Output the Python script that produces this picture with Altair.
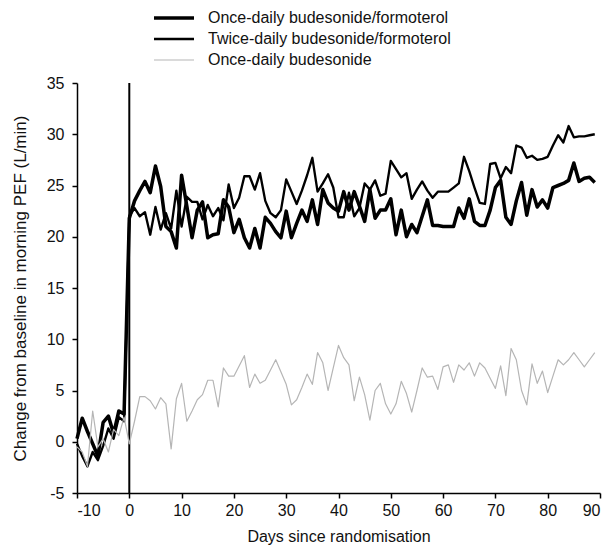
import altair as alt
import pandas as pd

series_names = ["Once-daily budesonide/formoterol",
                "Twice-daily budesonide/formoterol",
                "Once-daily budesonide"]

days = list(range(-10, 90))

od_bf = [0.3, 2.3, 1.0, -0.2, -1.4, 1.9, 2.5, 0.8, 3.0, 2.7,
         21.8, 23.5, 24.5, 25.4, 24.3, 26.9, 24.9, 21.0, 20.5, 18.9,
         26.0, 23.0, 19.9, 22.6, 23.4, 19.9, 20.2, 20.3, 23.6, 22.9,
         20.4, 21.7, 19.9, 18.9, 20.8, 18.9, 21.9, 21.3, 20.5, 19.9,
         22.5, 19.9, 21.3, 22.6, 21.5, 23.6, 21.2, 24.6, 23.3, 22.8,
         22.5, 24.4, 22.6, 24.4, 23.0, 21.5, 24.6, 21.8, 22.6, 22.6,
         23.7, 20.2, 22.6, 20.0, 21.2, 20.4, 22.0, 23.6, 21.1, 21.1,
         21.0, 21.0, 21.0, 22.8, 21.8, 23.7, 21.5, 21.1, 21.1, 22.6,
         24.8, 25.5, 21.9, 21.2, 23.5, 25.3, 22.1, 24.6, 22.9, 23.6,
         22.8, 24.8, 25.0, 25.2, 25.5, 27.2, 25.4, 25.7, 25.8, 25.3]

bd_bf = [-0.2, -1.4, -2.4, -1.0, -1.8, -0.4, 1.3, 0.3, 2.4, 2.0,
         22.0, 22.8, 22.0, 22.4, 20.2, 22.9, 20.7, 22.3, 20.8, 24.5,
         21.0, 23.9, 23.4, 23.4, 21.7, 23.1, 22.0, 22.8, 21.6, 25.1,
         22.8, 23.8, 25.9, 25.9, 24.6, 26.2, 23.5, 22.3, 21.9, 22.6,
         25.6, 24.4, 23.2, 24.5, 26.0, 27.7, 24.4, 25.2, 26.1, 24.8,
         21.9, 21.9, 24.3, 22.0, 22.8, 25.2, 24.6, 25.5, 24.0, 24.2,
         27.4, 26.6, 25.8, 26.2, 23.7, 24.6, 25.4, 24.5, 23.8, 24.4,
         24.4, 24.4, 24.8, 25.2, 27.8, 26.4, 24.8, 23.3, 23.2, 27.1,
         27.2, 25.7, 26.8, 26.2, 28.9, 28.7, 27.7, 27.9, 27.5, 27.6,
         27.8, 28.9, 29.9, 29.2, 30.8, 29.7, 29.8, 29.8, 29.9, 30.0]

od_b = [-0.5, -1.0, -2.4, 3.0, -0.5, 0.3, -1.0, 1.2, 0.6, 2.4,
        -0.2, 2.0, 4.4, 4.4, 4.0, 3.2, 4.3, 3.7, -0.7, 4.2,
        5.7, 2.0, 3.0, 4.1, 4.6, 6.0, 6.0, 3.4, 7.2, 6.4,
        6.4, 7.4, 8.4, 5.3, 6.6, 5.7, 6.0, 7.0, 8.0, 6.8,
        5.6, 3.6, 4.1, 5.3, 6.6, 5.6, 8.7, 7.7, 5.0, 7.2,
        9.4, 8.2, 7.5, 4.0, 6.3, 4.6, 2.1, 5.0, 5.7, 3.7,
        2.7, 3.7, 5.9, 4.7, 2.9, 5.0, 7.2, 6.3, 6.4, 5.1,
        7.3, 7.5, 5.8, 7.5, 7.0, 7.7, 6.4, 7.7, 7.2, 6.2,
        5.2, 7.4, 4.5, 9.1, 8.0, 5.0, 3.6, 7.6, 5.7, 6.9,
        4.8, 6.4, 8.0, 7.5, 8.0, 8.7, 8.0, 7.3, 8.0, 8.7]

x_ticks = list(range(-10, 100, 10))
y_ticks = list(range(-5, 40, 5))
rand_day = [0]

rows = []
for name, vals, order in zip(series_names, [od_bf, bd_bf, od_b], [2, 1, 0]):
    for d, v in zip(days, vals):
        rows.append({"day": d, "value": v, "series": name, "order": order})
df = pd.DataFrame(rows)

W, H = 523, 410
FONT = "Liberation Sans"

legend_kw = dict(title=None, orient="none", legendX=75, legendY=-73,
                 symbolType="stroke", symbolSize=1600, clipHeight=16,
                 rowPadding=5, labelOffset=12, labelFontSize=16,
                 labelFont=FONT, labelColor="#111", padding=0, labelLimit=0)

lines = alt.Chart(df).mark_line(strokeJoin="round").encode(
    x=alt.X("day:Q", scale=alt.Scale(domain=[-10, 90], nice=False, zero=False),
            axis=alt.Axis(values=x_ticks, title="Days since randomisation",
                          titlePadding=10, labelExpr="'' + datum.value")),
    y=alt.Y("value:Q", scale=alt.Scale(domain=[-5, 35], nice=False, zero=False),
            axis=alt.Axis(values=y_ticks,
                          title="Change from baseline in morning PEF (L/min)",
                          titlePadding=17, titleFontSize=17,
                          labelExpr="'' + datum.value")),
    color=alt.Color("series:N",
                    scale=alt.Scale(domain=series_names,
                                    range=["#000000", "#000000", "#b5b5b5"]),
                    legend=alt.Legend(**legend_kw)),
    strokeWidth=alt.StrokeWidth("series:N",
                                scale=alt.Scale(domain=series_names,
                                                range=[3.5, 1.2, 1.9]),
                                legend=alt.Legend(**legend_kw)),
    detail="series:N",
    order=alt.Order("order:Q"),
)

vline = alt.Chart(pd.DataFrame({"day": rand_day})).mark_rule(
    color="#000000", strokeWidth=2
).encode(x="day:Q", y=alt.value(0), y2=alt.value(H))

chart = alt.layer(vline, lines).properties(
    width=W, height=H,
    autosize=alt.AutoSizeParams(type="none"),
    padding={"left": 77, "top": 83, "right": 10, "bottom": 58},
).configure_view(stroke=None).configure_axis(
    grid=False, domainColor="#000000", domainWidth=1.5, tickColor="#000000",
    tickWidth=1.5, tickSize=5, labelFont=FONT, labelFontSize=16,
    labelColor="#111", titleFont=FONT, titleFontSize=16, titleColor="#111",
    titleFontWeight="normal", labelPadding=4
).configure_axisY(labelPadding=8)

chart.save("out.html", embed_options={"renderer": "svg", "actions": False})
